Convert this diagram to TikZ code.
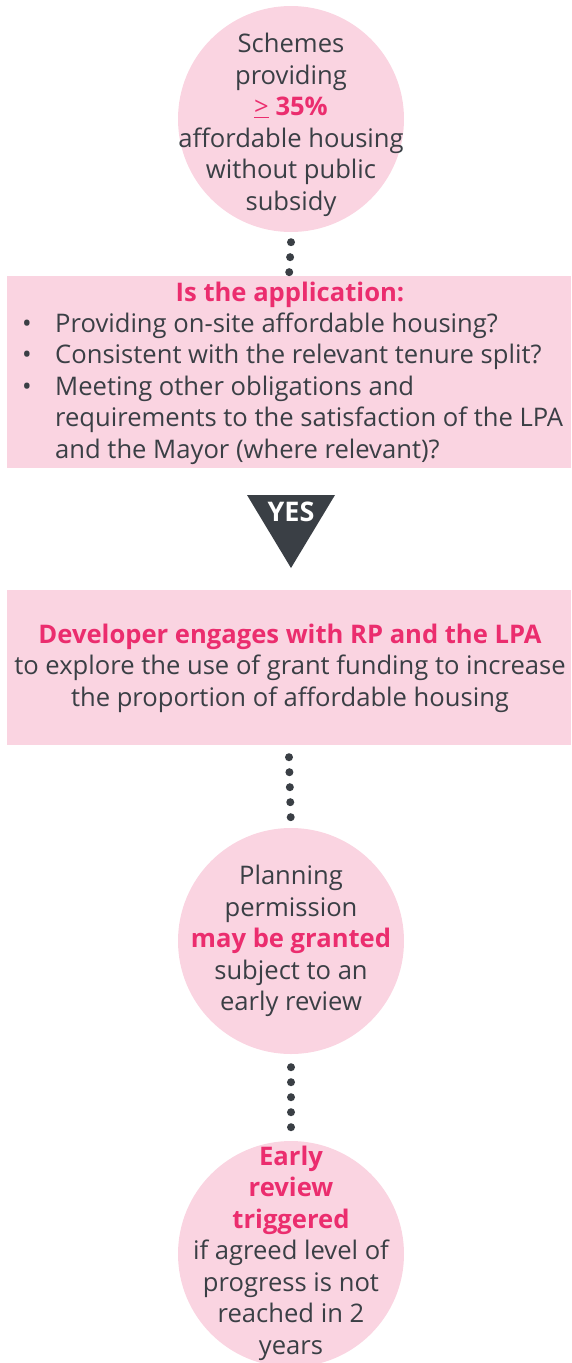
\documentclass[tikz,border=0pt]{standalone}
\usepackage{fontspec}
\setmainfont{Open Sans}
\usepackage{tikz}
\usetikzlibrary{arrows}
\definecolor{pinkfill}{HTML}{FAD4E1}
\definecolor{hotpink}{HTML}{EB2D6E}
\definecolor{inkgray}{HTML}{3A3F45}
\tikzstyle{bubble}=[circle,fill=pinkfill,minimum size=226pt,inner sep=0pt]
\tikzstyle{panel}=[rectangle,fill=pinkfill,minimum width=564pt,inner sep=0pt]
\tikzstyle{words}=[text=inkgray,align=center,inner sep=0pt,font=\fontsize{25.6}{31.5}\selectfont]
\tikzstyle{dots}=[draw=inkgray,line width=8pt,line cap=round,dash pattern=on 0pt off 15pt]
\newcommand{\hot}[1]{\textcolor{hotpink}{\bfseries #1}}

\begin{document}
\begin{tikzpicture}[x=1pt,y=-1pt]
  \useasboundingbox (0,0) rectangle (571,1363);
  % schemes circle
  \node[bubble] (schemes) at (291,119) {};
  \node[words] (schemestext) at (291,125) {Schemes\\providing\\\hot{{\mdseries\underline{>}} 35\%}\\affordable housing\\without public\\subsidy};

  % application box
  \node[panel,minimum height=192pt] (application) at (289,372) {};
  \node[words] (applicationtitle) at (290,295) {\hot{Is the application:}};
  \node[words,anchor=west] (applicationlist) at (22,389) {%
    \begin{tabular}{@{}p{33pt}@{}l@{}}
      \textbullet & Providing on-site affordable housing?\\
      \textbullet & Consistent with the relevant tenure split?\\
      \textbullet & Meeting other obligations and\\
      & requirements to the satisfaction of the LPA\\
      & and the Mayor (where relevant)?
    \end{tabular}};

  % yes marker
  \fill[inkgray] (247,495) -- (335,495) -- (291,568) -- cycle;
  \node[text=white,font=\fontsize{27}{27}\selectfont\bfseries] (yes) at (291,512) {YES};

  % developer box
  \node[panel,minimum height=155pt] (developer) at (289,667.5) {};
  \node[words] (developertext) at (290,668) {\hot{Developer engages with RP and the LPA}\\to explore the use of grant funding to increase\\the proportion of affordable housing};

  % planning circle
  \node[bubble] (planning) at (291,941) {};
  \node[words] (planningtext) at (291,941) {Planning\\permission\\\hot{may be granted}\\subject to an\\early review};

  % early review circle
  \node[bubble] (early) at (291,1254) {};
  \node[words] (earlytext) at (291,1253) {\hot{Early}\\\hot{review}\\\hot{triggered}\\if agreed level of\\progress is not\\reached in 2\\years};

  % dotted links
  \path[dots] ([yshift=-10pt]schemes.south) -- (application.north);
  \path[dots] ([yshift=-12pt]developer.south) -- (planning.north);
  \path[dots] ([yshift=-13pt]planning.south) -- (early.north);
\end{tikzpicture}
\end{document}
